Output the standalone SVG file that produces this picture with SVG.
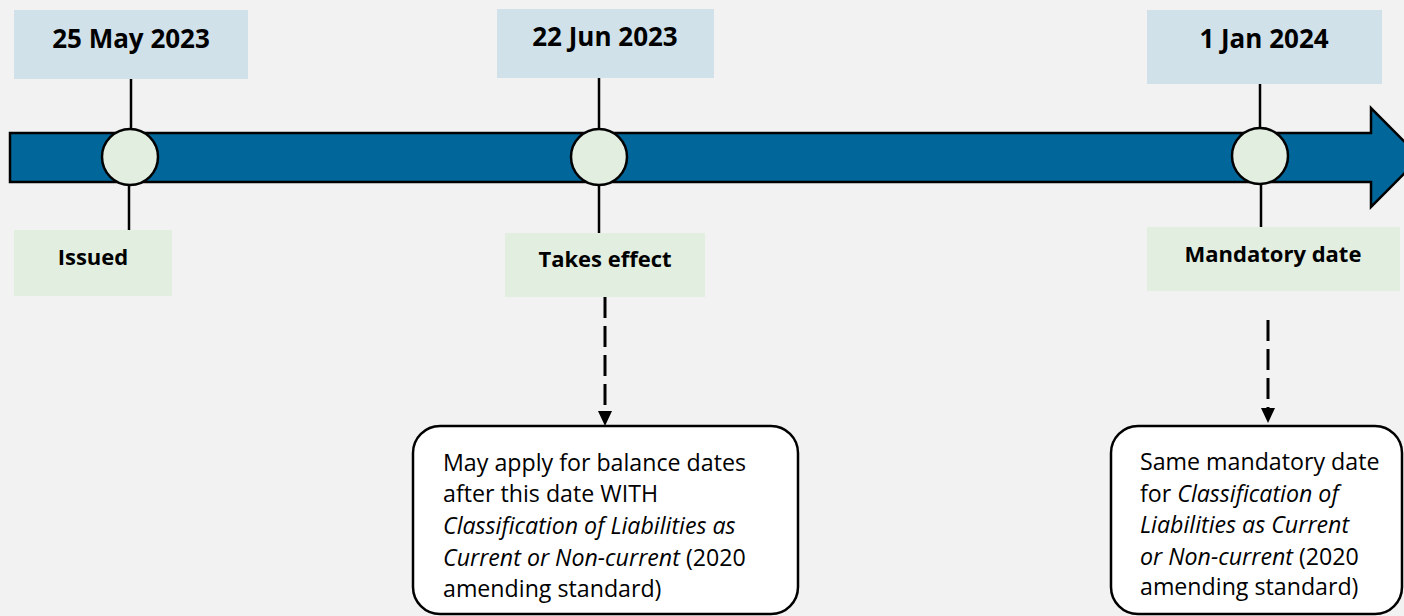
<svg xmlns="http://www.w3.org/2000/svg" width="1404" height="616" viewBox="0 0 1404 616">
<defs>
<style>
.date{fill:#d0e1ea}
.lab{fill:#e2eee0}
.dt{font-family:"Open Sans","Noto Sans",sans-serif;font-weight:bold;font-size:26px;fill:#000;text-anchor:middle}
.lt{font-family:"Open Sans","Noto Sans",sans-serif;font-weight:bold;font-size:22px;fill:#000;text-anchor:middle}
.tick{stroke:#000;stroke-width:2.5;fill:none}
.dot{fill:#e2eee0;stroke:#000;stroke-width:2.5}
.call{fill:#fff;stroke:#000;stroke-width:2.5}
.ct{font-family:"Open Sans","Noto Sans",sans-serif;font-size:23.2px;fill:#000}
.dash{stroke:#000;stroke-width:3;stroke-dasharray:21 8;fill:none}
</style>
</defs>
<rect width="1404" height="616" fill="#f2f2f2"/>
<g id="timeline">
<path d="M10,133 L1371,133 L1371,108 L1420,157.5 L1371,207 L1371,182 L10,182 Z" fill="#01679a" stroke="#000" stroke-width="2.5"/>
</g>
<g id="connectors">
<line class="tick" x1="131" y1="79" x2="131" y2="130"/>
<line class="tick" x1="129" y1="185" x2="129" y2="230"/>
<line class="tick" x1="599" y1="78" x2="599" y2="130"/>
<line class="tick" x1="599" y1="185" x2="599" y2="233"/>
<line class="tick" x1="1260" y1="84" x2="1260" y2="129"/>
<line class="tick" x1="1261" y1="184" x2="1261" y2="227"/>
<line class="dash" x1="605" y1="297" x2="605" y2="412"/>
<path d="M598,411 L612,411 L605,426 Z" fill="#000"/>
<line class="dash" x1="1268" y1="320" x2="1268" y2="408"/>
<path d="M1261,408 L1275,408 L1268,423 Z" fill="#000"/>
</g>
<g id="n1">
<rect class="date" x="14" y="10" width="234" height="69"/>
<text class="dt" x="131" y="48">25 May 2023</text>
<circle class="dot" cx="130" cy="157" r="28"/>
<rect class="lab" x="14" y="230" width="158" height="66"/>
<text class="lt" x="93" y="265">Issued</text>
</g>
<g id="n2">
<rect class="date" x="497" y="9" width="217" height="69"/>
<text class="dt" x="605" y="46">22 Jun 2023</text>
<circle class="dot" cx="599" cy="157" r="28"/>
<rect class="lab" x="505" y="233" width="200" height="64"/>
<text class="lt" x="605" y="267">Takes effect</text>
</g>
<g id="n3">
<rect class="date" x="1147" y="10" width="235" height="74"/>
<text class="dt" x="1264" y="48">1 Jan 2024</text>
<circle class="dot" cx="1260" cy="156" r="28"/>
<rect class="lab" x="1147" y="227" width="253" height="64"/>
<text class="lt" x="1273" y="262">Mandatory date</text>
</g>
<g id="c1">
<rect class="call" x="413" y="426" width="385" height="188" rx="27"/>
<text class="ct" x="443" y="471">May apply for balance dates</text>
<text class="ct" x="443" y="502">after this date WITH</text>
<text class="ct" x="443" y="534" font-style="italic">Classification of Liabilities as</text>
<text class="ct" x="443" y="566"><tspan font-style="italic">Current or Non-current</tspan> (2020</text>
<text class="ct" x="443" y="597">amending standard)</text>
</g>
<g id="c2">
<rect class="call" x="1111" y="426" width="291" height="188" rx="27"/>
<text class="ct" x="1140" y="470">Same mandatory date</text>
<text class="ct" x="1140" y="502">for <tspan font-style="italic">Classification of</tspan></text>
<text class="ct" x="1140" y="533" font-style="italic">Liabilities as Current</text>
<text class="ct" x="1140" y="565"><tspan font-style="italic">or Non-current</tspan> (2020</text>
<text class="ct" x="1140" y="595">amending standard)</text>
</g>
</svg>
